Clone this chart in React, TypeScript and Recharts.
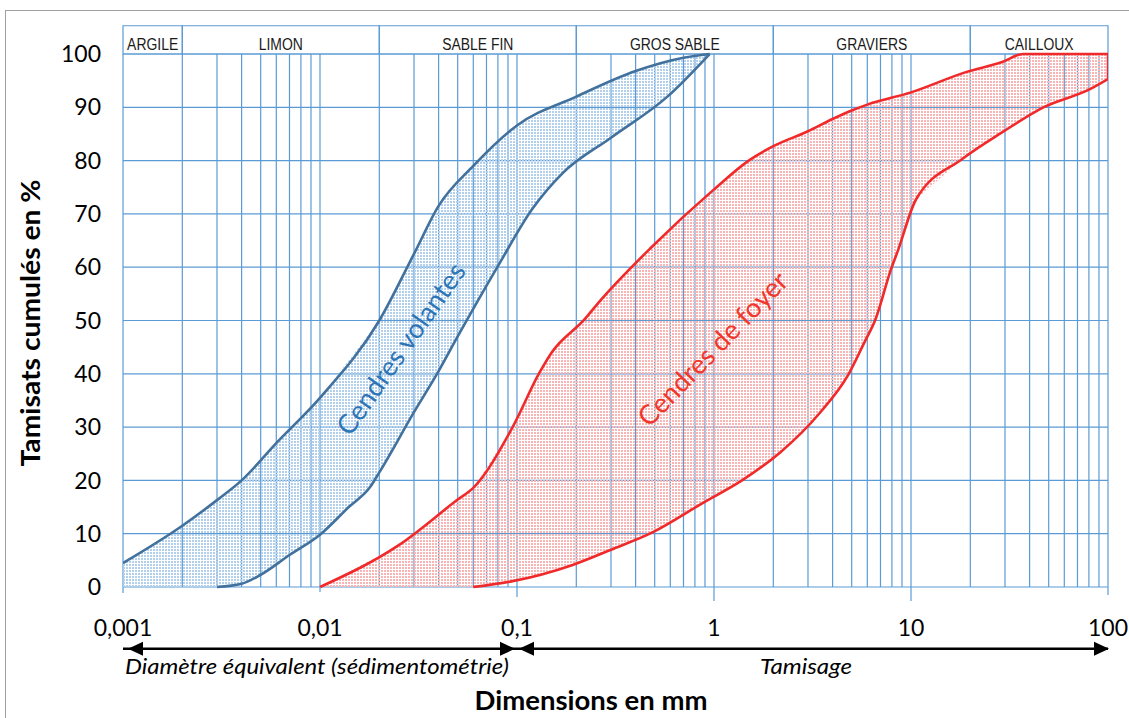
import React from "react";
import {
  LineChart,
  Line,
  XAxis,
  YAxis,
  CartesianGrid,
  ReferenceArea,
  ReferenceDot,
  ReferenceLine,
} from "recharts";

// fuseau "Cendres volantes" : borne haute / borne basse (diamètre mm, % tamisat)
const volantesHautD = [0.001, 0.002, 0.003, 0.004, 0.006, 0.01, 0.02, 0.03, 0.04, 0.06, 0.1, 0.2, 0.4, 0.7, 0.95];
const volantesHautP = [4.5, 11.5, 16.3, 20, 27, 35.5, 50, 62.5, 71.5, 79, 86.6, 92, 96.8, 99.3, 100];
const volantesBasD = [0.003, 0.004, 0.005, 0.007, 0.01, 0.014, 0.018, 0.02, 0.03, 0.04, 0.05, 0.08, 0.12, 0.17, 0.3, 0.58, 0.95];
const volantesBasP = [0, 0.6, 2.3, 6, 9.8, 15, 18.8, 21.5, 32.8, 40.5, 47, 60.2, 71, 77.6, 84.3, 92, 100];

// fuseau "Cendres de foyer"
const foyerHautD = [0.01, 0.025, 0.05, 0.06, 0.095, 0.13, 0.15, 0.22, 0.26, 0.48, 1, 1.5, 2, 3, 4, 5, 6, 10, 19, 29, 37, 100];
const foyerHautP = [0, 7.8, 16.4, 18.6, 30, 40.2, 44, 50.2, 53.4, 63.7, 74.6, 80, 82.7, 85.5, 87.8, 89.4, 90.5, 92.8, 96.6, 98.5, 100, 100];
const foyerBasD = [0.06, 0.095, 0.19, 0.3, 0.49, 0.88, 1.4, 2.16, 3.45, 4.8, 5.8, 6.6, 7.9, 8.6, 10.6, 18.2, 29, 47, 81, 100];
const foyerBasP = [0, 1.1, 4.1, 7, 10.3, 15.8, 20.1, 25.2, 32.7, 39.8, 45.9, 50.2, 59.5, 63.2, 72.7, 80.3, 85.3, 90, 93.4, 95.3];

// axes
const decades = [0.001, 0.01, 0.1, 1, 10, 100];
const decadeLabels = ["0,001", "0,01", "0,1", "1", "10", "100"];
const tickDepth = [6, 5, 10, 14, 14, 8];
const yTicks = [0, 10, 20, 30, 40, 50, 60, 70, 80, 90, 100];

// classes granulométriques (bandeau du haut)
const classes = ["ARGILE", "LIMON", "SABLE FIN", "GROS SABLE", "GRAVIERS", "CAILLOUX"];
const classBounds = [0.001, 0.002, 0.02, 0.2, 2, 20, 100];

const gridD = decades
  .slice(0, 5)
  .flatMap((d) => [1, 2, 3, 4, 5, 6, 7, 8, 9].map((m) => +(m * d).toPrecision(2)))
  .concat(100);

const pts = (d: number[], p: number[]) => d.map((v, i) => ({ d: v, p: p[i] }));

const volantesHaut = pts(volantesHautD, volantesHautP);
const volantesBas = pts(volantesBasD, volantesBasP);
const foyerHaut = pts(foyerHautD, foyerHautP);
const foyerBas = pts(foyerBasD, foyerBasP);

// contours fermés pour le remplissage pointillé
const volantesZone = [...volantesHaut, ...[...volantesBas].reverse(), { d: 0.001, p: 0 }];
const foyerZone = [...foyerHaut, ...[...foyerBas].reverse()];
const foyerBord = [
  { d: 100, p: foyerBasP[foyerBasP.length - 1] },
  { d: 100, p: 100 },
];

const GRID = "#5B9BD5";
const BLUE = "#41719C";
const RED = "#F02A2A";
const BAND_TOP = 105.3;
const ARROW_Y = -11.6;
const NOTE_Y = -16.3;
const FONT = "Lato, 'Open Sans', sans-serif";

function XTick(props: any) {
  const { x, y, payload } = props;
  const i = decades.findIndex((v) => Math.abs(v - payload.value) < v * 1e-6);
  if (i < 0) return <g />;
  return (
    <g>
      <line x1={x} x2={x} y1={y} y2={y + tickDepth[i]} stroke={GRID} strokeWidth={1.2} />
      <text x={x} y={y + 49} textAnchor="middle" fontFamily={FONT} fontSize={23} fill="#000">
        {decadeLabels[i]}
      </text>
    </g>
  );
}

const arrowHead = (dir: number, shift: number) => (p: any) => {
  const tx = p.cx + shift;
  return (
    <polygon
      points={`${tx},${p.cy} ${tx - dir * 15},${p.cy - 7} ${tx - dir * 15},${p.cy + 7}`}
      fill="#000"
    />
  );
};

const bandLabel = (text: string) => (p: any) => {
  const vb = p.viewBox;
  return (
    <text
      transform={`translate(${vb.x + vb.width / 2},${vb.y + vb.height - 4}) scale(0.82,1)`}
      textAnchor="middle"
      fontFamily="'Liberation Sans', Arial, sans-serif"
      fontSize={17}
      fill="#1a1a1a"
    >
      {text}
    </text>
  );
};

export default function App() {
  return (
    <div style={{ position: "fixed", left: 0, top: 0, width: 1129, height: 718, overflow: "hidden", background: "#fff" }}>
      <style>{`.zone-volantes .recharts-line-curve{fill:url(#dotsBlue)!important}
.zone-foyer .recharts-line-curve{fill:url(#dotsRed)!important}`}</style>
      <div
        style={{
          position: "absolute",
          left: 5,
          top: 10,
          width: 1140,
          height: 730,
          border: "1.5px solid #A0A0A0",
        }}
      />
      <div style={{ position: "absolute", left: 0, top: 0 }}>
        <LineChart width={1129} height={718} margin={{ top: 54, right: 21, bottom: 71, left: 63 }}>
          <defs>
            <pattern id="dotsBlue" width="3" height="3" patternUnits="userSpaceOnUse">
              <rect width="2" height="2" fill="#B2D0EC" />
            </pattern>
            <pattern id="dotsRed" width="3" height="3" patternUnits="userSpaceOnUse">
              <rect width="2" height="2" fill="#F7B5B5" />
            </pattern>
          </defs>
          <CartesianGrid stroke={GRID} strokeWidth={1.2} />
          <XAxis
            dataKey="d"
            type="number"
            scale="log"
            domain={[0.001, 100]}
            allowDataOverflow
            ticks={gridD}
            interval={0}
            height={60}
            axisLine={false}
            tickLine={false}
            tickSize={0}
            tickMargin={0}
            tick={(p: any) => <XTick {...p} />}
            label={{
              content: () => (
                <text
                  x={591}
                  y={710}
                  textAnchor="middle"
                  fontFamily={FONT}
                  fontWeight="bold"
                  fontSize={26}
                  textLength={233}
                  lengthAdjust="spacingAndGlyphs"
                  fill="#000"
                >
                  Dimensions en mm
                </text>
              ),
            }}
          />
          <YAxis
            dataKey="p"
            type="number"
            domain={[0, 100]}
            ticks={yTicks}
            interval={0}
            width={60}
            axisLine={false}
            tickLine={false}
            tickSize={0}
            tickMargin={22}
            tick={{ fontFamily: FONT, fontSize: 23, fill: "#000" }}
            label={{
              content: () => (
                <text
                  transform="translate(40,323) rotate(-90)"
                  textAnchor="middle"
                  fontFamily={FONT}
                  fontWeight="bold"
                  fontSize={26}
                  textLength={287}
                  lengthAdjust="spacingAndGlyphs"
                  fill="#000"
                >
                  Tamisats cumulés en %
                </text>
              ),
            }}
          />

          {classes.map((c, i) => (
            <ReferenceArea
              key={c}
              x1={classBounds[i]}
              x2={classBounds[i + 1]}
              y1={100}
              y2={BAND_TOP}
              ifOverflow="visible"
              fill="none"
              stroke={GRID}
              strokeWidth={1.2}
              label={{ content: bandLabel(c) }}
            />
          ))}

          <Line
            className="zone-volantes"
            data={volantesZone}
            dataKey="p"
            type="linear"
            stroke="none"
            dot={false}
            activeDot={false}
            isAnimationActive={false}
          />
          <Line
            className="zone-foyer"
            data={foyerZone}
            dataKey="p"
            type="linear"
            stroke="none"
            dot={false}
            activeDot={false}
            isAnimationActive={false}
          />

          <Line data={volantesHaut} dataKey="p" type="monotone" stroke={BLUE} strokeWidth={2.6} dot={false} activeDot={false} isAnimationActive={false} />
          <Line data={volantesBas} dataKey="p" type="monotone" stroke={BLUE} strokeWidth={2.6} dot={false} activeDot={false} isAnimationActive={false} />
          <Line data={foyerHaut} dataKey="p" type="monotone" stroke={RED} strokeWidth={2.6} dot={false} activeDot={false} isAnimationActive={false} />
          <Line data={foyerBas} dataKey="p" type="monotone" stroke={RED} strokeWidth={2.6} dot={false} activeDot={false} isAnimationActive={false} />
          <Line data={foyerBord} dataKey="p" type="linear" stroke={RED} strokeWidth={2.6} dot={false} activeDot={false} isAnimationActive={false} />

          <ReferenceLine
            segment={[{ x: 0.001, y: ARROW_Y }, { x: 0.1, y: ARROW_Y }]}
            ifOverflow="visible"
            stroke="#000"
            strokeWidth={2.5}
          />
          <ReferenceLine
            segment={[{ x: 0.1, y: ARROW_Y }, { x: 100, y: ARROW_Y }]}
            ifOverflow="visible"
            stroke="#000"
            strokeWidth={2.5}
          />
          <ReferenceDot x={0.001} y={ARROW_Y} r={1} ifOverflow="visible" shape={arrowHead(-1, 5)} />
          <ReferenceDot x={0.1} y={ARROW_Y} r={1} ifOverflow="visible" shape={arrowHead(1, -2)} />
          <ReferenceDot x={0.1} y={ARROW_Y} r={1} ifOverflow="visible" shape={arrowHead(-1, 2)} />
          <ReferenceDot x={100} y={ARROW_Y} r={1} ifOverflow="visible" shape={arrowHead(1, 1)} />

          <ReferenceDot
            x={0.01}
            y={NOTE_Y}
            r={1}
            ifOverflow="visible"
            shape={(p: any) => (
              <text
                x={p.cx - 3}
                y={p.cy}
                textAnchor="middle"
                fontFamily={FONT}
                fontStyle="italic"
                fontSize={21}
                textLength={384}
                lengthAdjust="spacingAndGlyphs"
                fill="#000"
              >
                Diamètre équivalent (sédimentométrie)
              </text>
            )}
          />
          <ReferenceDot
            x={3}
            y={NOTE_Y}
            r={1}
            ifOverflow="visible"
            shape={(p: any) => (
              <text
                x={p.cx - 2}
                y={p.cy}
                textAnchor="middle"
                fontFamily={FONT}
                fontStyle="italic"
                fontSize={21}
                textLength={92}
                lengthAdjust="spacingAndGlyphs"
                fill="#000"
              >
                Tamisage
              </text>
            )}
          />

          <ReferenceDot
            x={0.0255}
            y={44.8}
            r={1}
            ifOverflow="visible"
            shape={(p: any) => (
              <text
                transform={`translate(${p.cx},${p.cy}) rotate(-55)`}
                textAnchor="middle"
                dominantBaseline="central"
                fontFamily={FONT}
                fontSize={27}
                fill="#2E75B6"
              >
                Cendres volantes
              </text>
            )}
          />
          <ReferenceDot
            x={0.977}
            y={44.8}
            r={1}
            ifOverflow="visible"
            shape={(p: any) => (
              <text
                transform={`translate(${p.cx},${p.cy}) rotate(-46)`}
                textAnchor="middle"
                dominantBaseline="central"
                fontFamily={FONT}
                fontSize={27}
                fill="#F0372C"
              >
                Cendres de foyer
              </text>
            )}
          />
        </LineChart>
      </div>
    </div>
  );
}
